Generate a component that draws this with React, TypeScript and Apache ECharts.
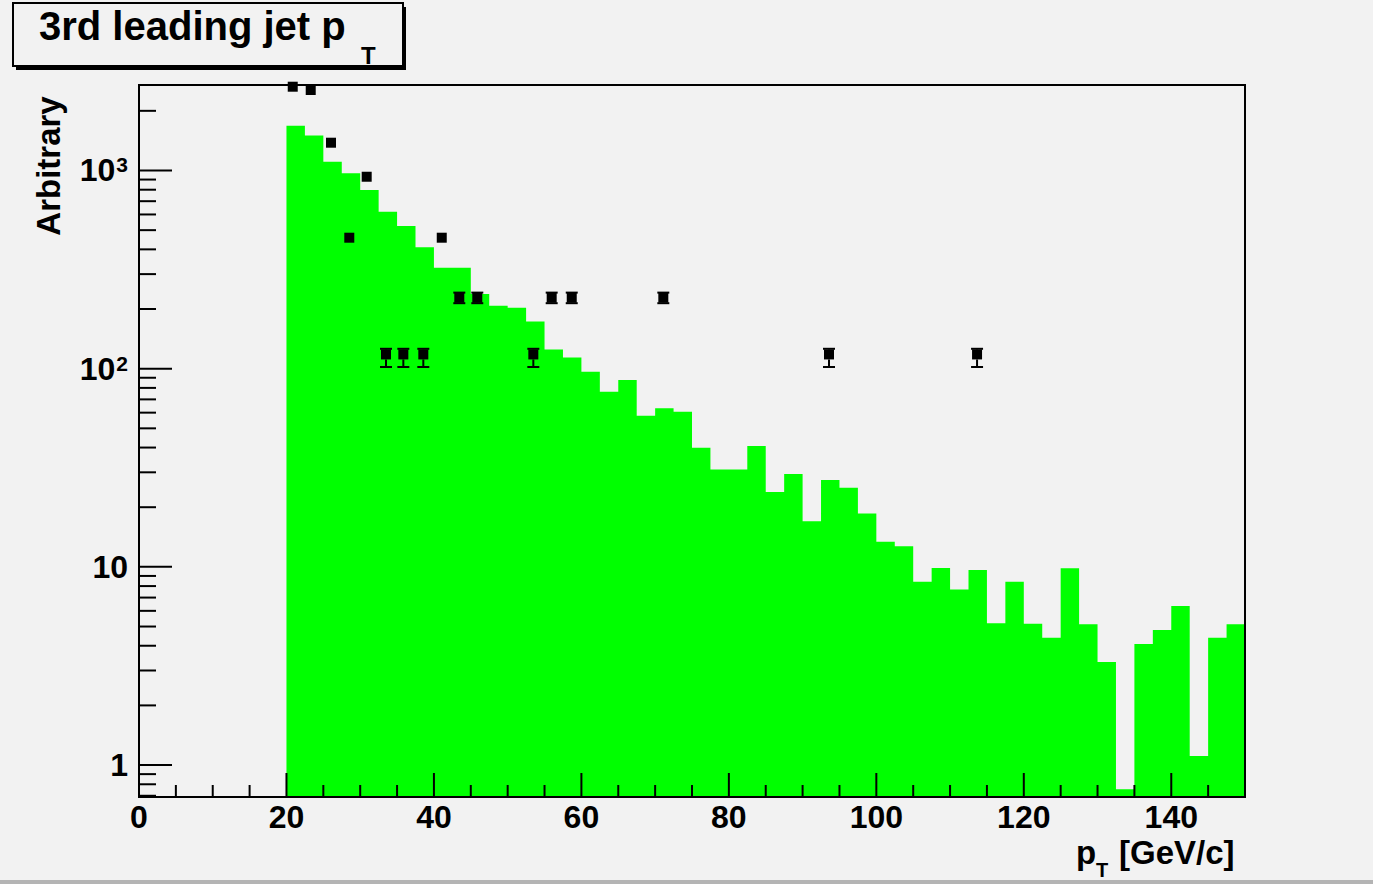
import React, { useEffect, useRef } from "react";
import * as echarts from "echarts";

// ---------- data ----------
const binLowEdges = [
  20, 22.5, 25, 27.5, 30, 32.5, 35, 37.5, 40, 42.5, 45, 47.5, 50, 52.5, 55, 57.5,
  60, 62.5, 65, 67.5, 70, 72.5, 75, 77.5, 80, 82.5, 85, 87.5, 90, 92.5, 95, 97.5,
  100, 102.5, 105, 107.5, 110, 112.5, 115, 117.5, 120, 122.5, 125, 127.5, 130, 132.5,
  135, 137.5, 140, 142.5, 145, 147.5,
];
const lastBinUpEdge = 150;
const histValues = [
  1680, 1500, 1108, 968, 797, 620, 525, 410, 323, 323, 238, 208, 203, 173, 125, 114,
  96.6, 76.6, 87.7, 57.9, 63.1, 60.7, 39.9, 31.0, 31.0, 40.7, 23.9, 29.4, 17.0, 27.4, 25.1, 18.6,
  13.4, 12.7, 8.42, 9.87, 7.69, 9.65, 5.19, 8.42, 5.16, 4.39, 9.84, 5.14, 3.31, 0.755,
  4.08, 4.80, 6.35, 1.11, 4.39, 5.14,
];

const pointX = [20.85, 23.29, 26.04, 28.52, 30.88, 33.5, 35.85, 38.56, 41.06, 43.44, 45.88, 53.48, 55.97, 58.69, 71.11, 93.58, 113.66];
const pointY = [2647, 2547, 1381, 458, 930, 118, 118, 118, 458, 228, 228, 118, 228, 228, 228, 118, 118];
const pointErrUp = [51, 50, 37, 21, 30, 8, 8, 8, 21, 14, 14, 8, 14, 14, 14, 8, 8];
const pointErrDown = [51, 50, 37, 21, 30, 16, 16, 16, 21, 14, 14, 16, 14, 14, 14, 16, 16];

const xMin = 0;
const xMax = 150;
const yMin = 0.69;
const yMax = 2700;

const xMajorTicks = [0, 20, 40, 60, 80, 100, 120, 140];
const xMinorTicks = [5, 10, 15, 25, 30, 35, 45, 50, 55, 65, 70, 75, 85, 90, 95, 105, 110, 115, 125, 130, 135, 145];
const yMajorTicks = [1, 10, 100, 1000];
const yTickLabels = ["{b|1}", "{b|10}", "{b|10}{s|2}", "{b|10}{s|3}"];
const yMinorTicks = [0.7, 0.8, 0.9, 2, 3, 4, 5, 6, 7, 8, 9, 20, 30, 40, 50, 60, 70, 80, 90, 200, 300, 400, 500, 600, 700, 800, 900, 2000];

const titleText = "3rd leading jet p";
const titleSub = "T";
const xTitleMain = "p";
const xTitleSub = "T";
const xTitleRest = "[GeV/c]";
const yTitle = "Arbitrary";

// ---------- styles ----------
const FONT = '"Liberation Sans", Arial, Helvetica, sans-serif';
const BG = "#f2f2f2";
const GREEN = "#00ff00";
const GRID = { left: 139, top: 85, right: 1245, bottom: 797 };
const MARKER = 10;

function tickSeries(values: number[], horizontal: boolean, len: number) {
  return {
    type: "custom",
    coordinateSystem: "cartesian2d",
    z: 6,
    silent: true,
    data: values.map((v) => (horizontal ? [xMin, v] : [v, yMin])),
    encode: { x: 0, y: 1 },
    renderItem: (_p: any, api: any) => {
      const p = api.coord([api.value(0), api.value(1)]);
      const shape = horizontal
        ? { x1: p[0], y1: p[1], x2: p[0] + len, y2: p[1] }
        : { x1: p[0], y1: p[1], x2: p[0], y2: p[1] - len };
      return { type: "line", shape, style: { stroke: "#000", lineWidth: 2 } };
    },
  };
}

export default function App() {
  const ref = useRef<HTMLDivElement>(null);

  useEffect(() => {
    if (!ref.current) return;
    const chart = echarts.init(ref.current, undefined, { renderer: "svg" });

    const histSeries = {
      type: "custom",
      coordinateSystem: "cartesian2d",
      z: 2,
      silent: true,
      data: [[binLowEdges[0], histValues[0]]],
      encode: { x: 0, y: 1 },
      renderItem: (_p: any, api: any) => {
        const pts: number[][] = [api.coord([binLowEdges[0], yMin])];
        for (let i = 0; i < histValues.length; i++) {
          const lo = binLowEdges[i];
          const hi = i + 1 < binLowEdges.length ? binLowEdges[i + 1] : lastBinUpEdge;
          pts.push(api.coord([lo, histValues[i]]));
          pts.push(api.coord([hi, histValues[i]]));
        }
        pts.push(api.coord([lastBinUpEdge, yMin]));
        return { type: "polygon", shape: { points: pts }, style: { fill: GREEN, stroke: null } };
      },
    };

    const errSeries = {
      type: "custom",
      coordinateSystem: "cartesian2d",
      z: 7,
      silent: true,
      data: pointX.map((x, i) => [x, pointY[i], pointErrUp[i], pointErrDown[i]]),
      encode: { x: 0, y: 1 },
      renderItem: (_p: any, api: any) => {
        const x = api.value(0);
        const y = api.value(1);
        const c = api.coord([x, y]);
        const top = api.coord([x, y + api.value(2)]);
        const bot = api.coord([x, y - api.value(3)]);
        const half = MARKER / 2;
        const h = 6;
        const st = { stroke: "#000", lineWidth: 2 };
        const children: any[] = [];
        if (c[1] - top[1] >= half) {
          children.push({ type: "line", shape: { x1: c[0], y1: c[1] - half, x2: c[0], y2: top[1] }, style: st });
          children.push({ type: "line", shape: { x1: c[0] - h, y1: top[1], x2: c[0] + h, y2: top[1] }, style: st });
        }
        if (bot[1] - c[1] >= half) {
          children.push({ type: "line", shape: { x1: c[0], y1: c[1] + half, x2: c[0], y2: bot[1] }, style: st });
          children.push({ type: "line", shape: { x1: c[0] - h, y1: bot[1], x2: c[0] + h, y2: bot[1] }, style: st });
        }
        return { type: "group", children };
      },
    };

    const option: any = {
      animation: false,
      backgroundColor: BG,
      grid: {
        left: GRID.left,
        top: GRID.top,
        right: 1373 - GRID.right,
        bottom: 884 - GRID.bottom,
        show: false,
      },
      xAxis: {
        type: "value",
        min: xMin,
        max: xMax,
        interval: 20,
        axisLine: { show: false },
        axisTick: { show: false },
        splitLine: { show: false },
        axisLabel: {
          color: "#000",
          fontFamily: FONT,
          fontWeight: "bold",
          fontSize: 32,
          margin: 4,
          formatter: (v: number) => {
            const idx = xMajorTicks.indexOf(Math.round(v));
            return idx >= 0 && Math.abs(v - xMajorTicks[idx]) < 1e-6 ? String(xMajorTicks[idx]) : "";
          },
        },
      },
      yAxis: {
        type: "log",
        logBase: 10,
        min: yMin,
        max: yMax,
        axisLine: { show: false },
        axisTick: { show: false },
        splitLine: { show: false },
        minorTick: { show: false },
        axisLabel: {
          color: "#000",
          margin: 11,
          formatter: (v: number) => {
            const lg = Math.log10(v);
            const e = Math.round(lg);
            if (Math.abs(lg - e) > 1e-6) return "";
            const idx = yMajorTicks.findIndex((t) => Math.abs(Math.log10(t) - e) < 1e-6);
            return idx >= 0 ? yTickLabels[idx] : "";
          },
          rich: {
            b: { fontFamily: FONT, fontWeight: "bold", fontSize: 32, color: "#000" },
            s: { fontFamily: FONT, fontWeight: "bold", fontSize: 21, color: "#000", verticalAlign: "top", padding: [0, 0, 0, 1] },
          },
        },
      },
      graphic: [
        // frame
        {
          type: "rect",
          z: 100,
          silent: true,
          shape: { x: GRID.left, y: GRID.top, width: GRID.right - GRID.left, height: GRID.bottom - GRID.top },
          style: { fill: "none", stroke: "#000", lineWidth: 2 },
        },
        // title box shadow and box
        { type: "rect", z: 100, shape: { x: 16, y: 7, width: 390, height: 63 }, style: { fill: "#000" } },
        { type: "rect", z: 101, shape: { x: 13, y: 3, width: 390, height: 63 }, style: { fill: BG, stroke: "#000", lineWidth: 2 } },
        {
          type: "text",
          z: 102,
          x: 39,
          y: 26,
          style: { text: titleText, fontFamily: FONT, fontWeight: "bold", fontSize: 40, fill: "#000", align: "left", verticalAlign: "middle" },
        },
        {
          type: "text",
          z: 102,
          x: 361,
          y: 55,
          style: { text: titleSub, fontFamily: FONT, fontWeight: "bold", fontSize: 24, fill: "#000", align: "left", verticalAlign: "middle" },
        },
        // x axis title
        {
          type: "text",
          z: 102,
          x: 1076,
          y: 852,
          style: { text: xTitleMain, fontFamily: FONT, fontWeight: "bold", fontSize: 33, fill: "#000", align: "left", verticalAlign: "middle" },
        },
        {
          type: "text",
          z: 102,
          x: 1096,
          y: 870,
          style: { text: xTitleSub, fontFamily: FONT, fontWeight: "bold", fontSize: 20, fill: "#000", align: "left", verticalAlign: "middle" },
        },
        {
          type: "text",
          z: 102,
          x: 1119,
          y: 852,
          style: { text: xTitleRest, fontFamily: FONT, fontWeight: "bold", fontSize: 33, fill: "#000", align: "left", verticalAlign: "middle" },
        },
        // y axis title
        {
          type: "text",
          z: 102,
          x: 48,
          y: 166,
          rotation: Math.PI / 2,
          style: { text: yTitle, fontFamily: FONT, fontWeight: "bold", fontSize: 33, fill: "#000", align: "center", verticalAlign: "middle" },
        },
        // bottom window edge
        { type: "rect", z: 100, shape: { x: 0, y: 880, width: 1373, height: 4 }, style: { fill: "#b4b4b4" } },
      ],
      series: [
        histSeries,
        tickSeries(yMajorTicks, true, 33),
        tickSeries(yMinorTicks, true, 17),
        tickSeries(xMajorTicks, false, 24),
        tickSeries(xMinorTicks, false, 12),
        errSeries,
        {
          type: "scatter",
          z: 8,
          silent: true,
          symbol: "rect",
          symbolSize: MARKER,
          itemStyle: { color: "#000", opacity: 1 },
          data: pointX.map((x, i) => [x, pointY[i]]),
        },
      ],
    };

    chart.setOption(option);
    return () => chart.dispose();
  }, []);

  return <div ref={ref} style={{ position: "absolute", left: 0, top: 0, width: 1373, height: 884 }} />;
}
